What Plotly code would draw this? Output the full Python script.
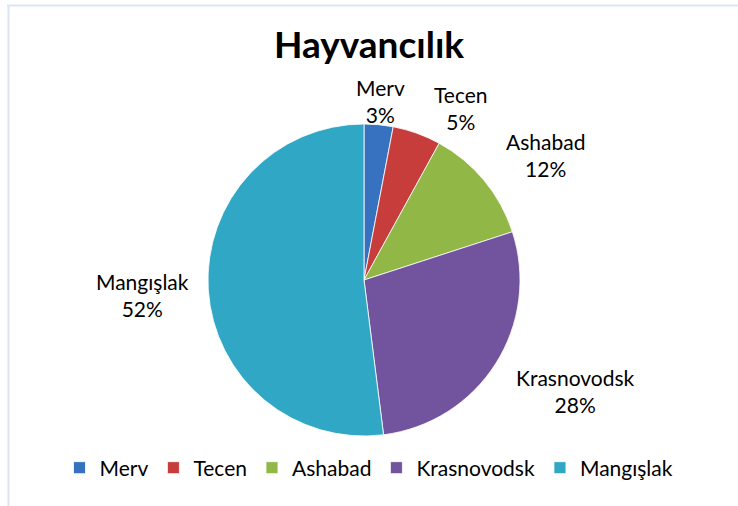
import plotly.graph_objects as go

W, H = 738, 506

title_text = "Hayvancılık"
categories = ["Merv", "Tecen", "Ashabad", "Krasnovodsk", "Mangışlak"]
values = [3, 5, 12, 28, 52]
colors = ["#3672c0", "#c63d3c", "#91b746", "#72539d", "#31a7c6"]

# label anchor points (pixels) for the outside data labels
label_px = [(380, 101), (461, 108), (545, 155), (575, 391), (142, 295)]

FONT = "Lato"
total = sum(values)

fig = go.Figure()
fig.add_trace(go.Pie(
    labels=categories,
    values=values,
    sort=False,
    direction="clockwise",
    rotation=0,
    marker=dict(colors=colors, line=dict(color="#ffffff", width=0.8)),
    textinfo="none",
    hoverinfo="label+percent",
    domain=dict(x=[208 / W, 520 / W], y=[70 / H, 382 / H]),
    showlegend=True,
))

annotations = []
for cat, v, (px, py) in zip(categories, values, label_px):
    annotations.append(dict(
        text=f"{cat}<br>{v / total * 100:.0f}%",
        x=px / W, y=1 - py / H, xref="paper", yref="paper",
        xanchor="center", yanchor="middle", showarrow=False,
        font=dict(family=FONT, size=21, color="#000000"),
        align="center",
    ))

shapes = [
    dict(type="line", xref="paper", yref="paper", x0=7 / W, x1=1, y0=1 - 5.5 / H, y1=1 - 5.5 / H,
         line=dict(color="#dbe5f3", width=2)),
    dict(type="line", xref="paper", yref="paper", x0=8.5 / W, x1=8.5 / W, y0=0, y1=1 - 5 / H,
         line=dict(color="#dbe5f3", width=2)),
]

fig.update_layout(
    width=W, height=H,
    margin=dict(l=0, r=0, t=0, b=0),
    paper_bgcolor="#ffffff",
    plot_bgcolor="#ffffff",
    title=dict(text=f"<b>{title_text}</b>", x=0.5, xanchor="center", y=1 - 45 / H, yanchor="middle",
               font=dict(family=FONT, size=37, color="#000000")),
    legend=dict(orientation="h", x=0.5, xanchor="center", y=1 - 468 / H, yanchor="middle",
                font=dict(family=FONT, size=21, color="#000000"),
                traceorder="normal", itemwidth=30),
    annotations=annotations,
    shapes=shapes,
)

fig.write_html("out.html", config={"displayModeBar": False},
               post_script="document.body.style.margin='0px';")
